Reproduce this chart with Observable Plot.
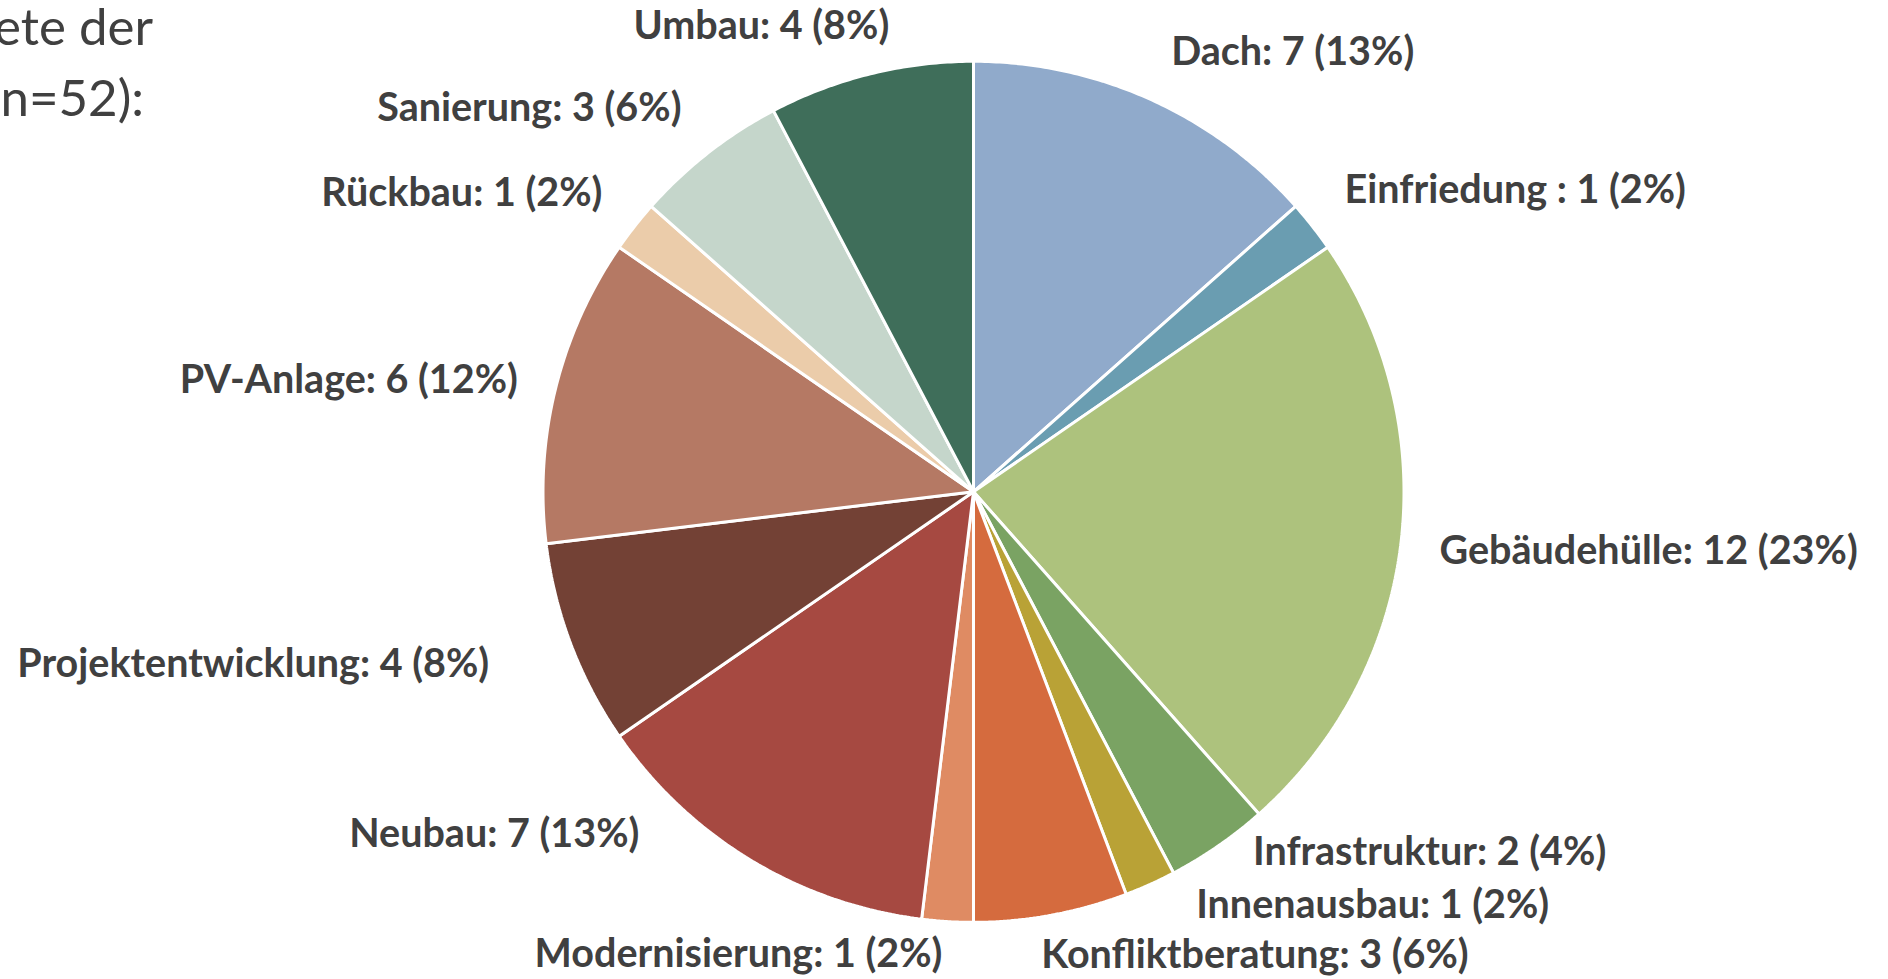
<!DOCTYPE html>
<html>
<head>
<meta charset="utf-8">
<script src="https://cdn.jsdelivr.net/npm/d3@7"></script>
<script src="https://cdn.jsdelivr.net/npm/@observablehq/plot@0.6"></script>
<style>
  html, body { margin: 0; padding: 0; background: #ffffff; overflow: hidden; }
  #wrap { position: relative; width: 1888px; height: 979px; overflow: hidden; }
  .title { position: absolute; white-space: nowrap; text-align: right;
           font-family: Lato, "Open Sans", sans-serif; font-size: 51px; color: #404040; line-height: 1; }
</style>
</head>
<body>
<div id="wrap">
  <div id="chart"></div>
  <div class="title" id="t1" style="top:0px; right:1735px"></div>
  <div class="title" id="t2" style="top:71px; right:1744px"></div>
</div>
<script>
// ---- data ----
const categories = ["Dach", "Einfriedung ", "Gebäudehülle", "Infrastruktur", "Innenausbau", "Konfliktberatung",
  "Modernisierung", "Neubau", "Projektentwicklung", "PV-Anlage", "Rückbau", "Sanierung", "Umbau"];
const counts = [7, 1, 12, 2, 1, 3, 1, 7, 4, 6, 1, 3, 4];
const percents = [13, 2, 23, 4, 2, 6, 2, 13, 8, 12, 2, 6, 8];
const colors = ["#90AACB", "#6A9DB1", "#ADC27D", "#7AA363", "#B9A236", "#D56B3E",
  "#DF8B63", "#A64941", "#734135", "#B57964", "#EBCCAA", "#C5D6CB", "#3F6E5A"];
const titleLines = ["ete der", "(n=52):"];
// label nudges (px) relative to the outside-end position
const labelNudgeX = [0, -8, -12, 6, 25, -19, -2, -85, -34, 12, 8, 5, 31];
const labelNudgeY = [0, -4, 2, -36, -26, -10, -18, -70, 2, 4, -1, -4, 2];

// ---- layout ----
const W = 1888, H = 979, cx = 973, cy = 491.3, R = 430.5, RL = 481.6 / 430.5;

document.getElementById("t1").textContent = titleLines[0];
document.getElementById("t2").textContent = titleLines[1];

const rows = categories.map((c, i) => ({cat: c, count: counts[i], pct: percents[i], i}));
const arcs = d3.pie().sort(null).value(d => d.count)(rows);

const slicePts = [];
arcs.forEach(a => {
  const n = Math.max(4, Math.ceil((a.endAngle - a.startAngle) / (Math.PI / 360)));
  slicePts.push({cat: a.data.cat, x: 0, y: 0});
  for (let k = 0; k <= n; k++) {
    const t = a.startAngle + (a.endAngle - a.startAngle) * k / n;
    slicePts.push({cat: a.data.cat, x: Math.sin(t), y: -Math.cos(t)});
  }
});

const labels = arcs.map(a => {
  const m = (a.startAngle + a.endAngle) / 2;
  const i = a.data.i;
  return {
    text: `${a.data.cat}: ${a.data.count} (${a.data.pct}%)`,
    x: RL * Math.sin(m) + labelNudgeX[i] / R,
    y: -RL * Math.cos(m) + labelNudgeY[i] / R,
    right: Math.sin(m) >= 0
  };
});

const textStyle = {fontSize: 39.5, fontWeight: "bold", fill: "#404040", fontFamily: "Lato", lineAnchor: "middle"};

const chart = Plot.plot({
  width: W,
  height: H,
  margin: 0,
  x: {domain: [-cx / R, (W - cx) / R], axis: null},
  y: {domain: [-cy / R, (H - cy) / R], reverse: true, axis: null},
  color: {domain: categories, range: colors},
  style: {background: "#ffffff", fontFamily: "Lato, sans-serif"},
  marks: [
    Plot.line(slicePts, {x: "x", y: "y", z: "cat", fill: "cat", stroke: "white", strokeWidth: 3,
      strokeLinejoin: "miter", curve: "linear-closed"}),
    Plot.text(labels.filter(d => d.right), {x: "x", y: "y", text: "text", textAnchor: "start", ...textStyle}),
    Plot.text(labels.filter(d => !d.right), {x: "x", y: "y", text: "text", textAnchor: "end", ...textStyle})
  ]
});
document.getElementById("chart").appendChild(chart);
</script>
</body>
</html>
